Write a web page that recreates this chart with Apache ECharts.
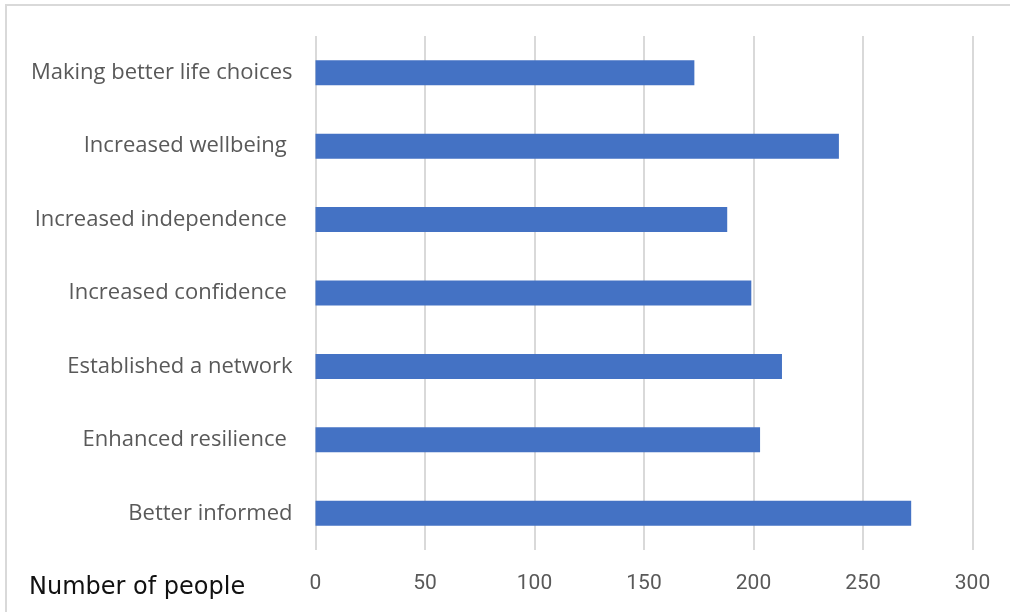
<!DOCTYPE html>
<html>
<head>
<meta charset="utf-8">
<script src="https://cdn.jsdelivr.net/npm/echarts@6/dist/echarts.min.js"></script>
<style>
html,body{margin:0;padding:0;background:#fff;}
#main{width:1010px;height:612px;}
</style>
</head>
<body>
<div id="main"></div>
<script>
const categories = [
  "Making better life choices",
  "Increased wellbeing ",
  "Increased independence ",
  "Increased confidence ",
  "Established a network",
  "Enhanced resilience ",
  "Better informed"
];
const values = [173, 239, 188, 199, 213, 203, 272];
const xTicks = { min: 0, max: 300, interval: 50 };
const axisTitle = "Number of people";

const chart = echarts.init(document.getElementById('main'), null, { renderer: 'canvas' });
chart.setOption({
  backgroundColor: '#ffffff',
  animation: false,
  title: {
    text: axisTitle,
    left: 24,
    top: 571,
    textStyle: { fontFamily: 'DejaVu Sans', fontWeight: 'normal', fontSize: 24, color: '#111111' }
  },
  graphic: [{
    type: 'rect',
    shape: { x: 6, y: 5, width: 1020, height: 620 },
    style: { fill: 'none', stroke: '#d9d9d9', lineWidth: 2 },
    silent: true
  }],
  grid: { left: 315.5, right: 37.5, top: 36, bottom: 62, containLabel: false },
  xAxis: {
    type: 'value',
    min: xTicks.min, max: xTicks.max, interval: xTicks.interval,
    axisLine: { show: false },
    axisTick: { show: false },
    splitLine: { show: true, lineStyle: { color: '#d9d9d9', width: 2 } },
    axisLabel: { color: '#595959', fontSize: 21, margin: 23, fontFamily: 'Liberation Sans Narrow, Roboto, sans-serif' }
  },
  yAxis: {
    type: 'category',
    inverse: true,
    data: categories,
    axisLine: { show: false },
    axisTick: { show: false },
    splitLine: { show: false },
    axisLabel: { color: '#595959', fontSize: 22, margin: 23, padding: [9, 0, 0, 0], fontFamily: 'Open Sans, Lato, sans-serif' }
  },
  series: [{
    type: 'bar',
    data: values,
    barCategoryGap: '66%',
    itemStyle: { color: '#4472C4' }
  }]
});
</script>
</body>
</html>
